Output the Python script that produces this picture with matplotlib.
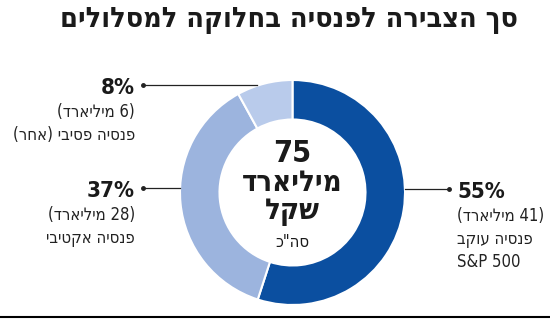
import re
import numpy as np
import matplotlib
matplotlib.use('Agg')
import matplotlib.pyplot as plt

# data
shares = [55, 37, 8]              # percent
amounts = [41, 28, 6]             # billion NIS
names = ["פנסיה עוקב\nS&P 500", "פנסיה אקטיבי", "פנסיה פסיבי (אחר)"]
colors = ["#0b4fa0", "#9cb4de", "#b9cbeb"]
total = 75
title = "סך הצבירה לפנסיה בחלוקה למסלולים"

plt.rcParams['font.family'] = ['DejaVu Sans']
plt.rcParams['font.stretch'] = 'condensed'


def vis(s):
    # crude bidi: hebrew lines are reversed, latin/number runs kept LTR
    if not re.search('[\u0590-\u05FF]', s):
        return s
    r = s[::-1]
    r = re.sub(r'[0-9A-Za-z&%.,]+', lambda m: m.group(0)[::-1], r)
    return r.translate(str.maketrans('()', ')('))


W, H = 550, 323
fig = plt.figure(figsize=(W / 100, H / 100), dpi=100)
ax = fig.add_axes([0, 0, 1, 1])

cx, cy, R = 292.5, H - 192.5, 112.5
ax.pie(shares, colors=colors, center=(cx, cy), radius=R, startangle=90,
       counterclock=False,
       wedgeprops=dict(width=39.5, edgecolor='white', linewidth=1.5))
ax.set_xlim(0, W)
ax.set_ylim(0, H)
ax.set_aspect('equal')
ax.axis('off')

dark = '#1a1a1a'
# title
ax.text(289, H - 20, vis(title), ha='center', va='center', fontsize=20.5,
        fontweight='bold', color=dark)

# centre text
ax.text(cx, H - 153, str(total), ha='center', va='center', fontsize=22,
        fontweight='bold', color=dark)
ax.text(cx, H - 183, vis("מיליארד"), ha='center', va='center', fontsize=21,
        fontweight='bold', color=dark)
ax.text(cx, H - 212, vis("שקל"), ha='center', va='center', fontsize=21,
        fontweight='bold', color=dark)
ax.text(cx, H - 242, vis('סה"כ'), ha='center', va='center', fontsize=12,
        color=dark)

# labels: (text x, line y, line start x, line end x, align)
lay = [
    (457, 189, 405, 449, 'left'),
    (135, 188, 180, 143, 'right'),
    (135, 85, 257, 143, 'right'),
]
for i, (tx, ly, x0, x1, al) in enumerate(lay):
    y = H - ly
    ax.plot([x0, x1], [y, y], color='#222222', lw=0.9)
    ax.plot(x1, y, 'o', ms=2.5, color='#222222')
    ax.text(tx, y - 3, f"{shares[i]}%", ha=al, va='center', fontsize=16,
            fontweight='bold', color=dark)
    lines = [f"({amounts[i]} מיליארד)"] + names[i].split("\n")
    for j, ln in enumerate(lines):
        ax.text(tx, y - 27 - 23 * j, vis(ln), ha=al, va='center', fontsize=12,
                color='#222222')

# bottom rule
ax.plot([0, W], [H - 317, H - 317], color='black', lw=1.5)

fig.savefig('out.png', dpi=100)
